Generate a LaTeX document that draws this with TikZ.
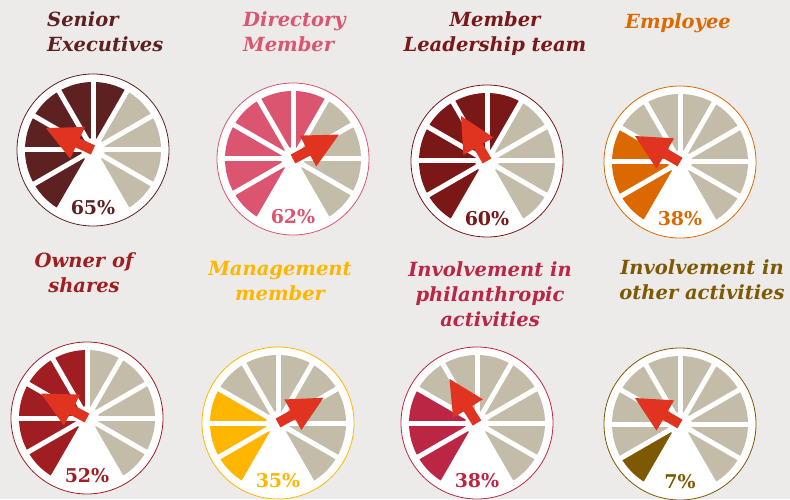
\documentclass[tikz,border=0pt]{standalone}
\usepackage{fontspec}
\setmainfont{DejaVu Serif}
\usepackage{tikz}
\definecolor{bg}{HTML}{ECEBE9}
\definecolor{segrey}{HTML}{C3BCA8}
\definecolor{arrowred}{HTML}{E03320}
\definecolor{senior}{HTML}{5E2121}
\definecolor{director}{HTML}{DB5470}
\definecolor{leader}{HTML}{7A1818}
\definecolor{employee}{HTML}{DC6900}
\definecolor{owner}{HTML}{A01E22}
\definecolor{manager}{HTML}{FFB600}
\definecolor{charity}{HTML}{BC2645}
\definecolor{other}{HTML}{7D5902}

\begin{document}
\begin{tikzpicture}[x=1pt,y=1pt]
	\tikzstyle{title}=[inner sep=0pt, font=\fontsize{19.5}{25}\selectfont\bfseries\itshape]
	\tikzstyle{pct}=[inner sep=0pt, anchor=base, font=\fontsize{19}{22}\selectfont\bfseries]
	\tikzstyle{pointer}=[fill=arrowred]
		\fill[bg] (0,0) rectangle (790,499);
		\useasboundingbox (0,0) rectangle (790,499);
	% titles
		\node[title, text=senior, anchor=north west, align=left] (t1) at (47,488) {Senior\\Executives};
		\node[title, text=director, anchor=north west, align=left] (t2) at (243,488) {Directory\\Member};
		\node[title, text=leader, anchor=north, align=center] (t3) at (495,488) {Member\\Leadership team};
		\node[title, text=employee, anchor=north] (t4) at (678,486) {Employee};
		\node[title, text=owner, anchor=north, align=center] (t5) at (84,247) {Owner of\\shares};
		\node[title, text=manager, anchor=north, align=center] (t6) at (280,238) {Management\\member};
		\node[title, text=charity, anchor=north, align=center] (t7) at (490,238) {Involvement in\\philanthropic\\activities};
		\node[title, text=other, anchor=north, align=center] (t8) at (702,240) {Involvement in\\other activities};
	% gauges
	\foreach \cx/\cy/\col/\n/\ang/\val [count=\i] in {93/349/senior/6/155/65, 293/340/director/6/28/62, 487/338/leader/6/120/60, 680/337/employee/3/150/38, 87/81/owner/5/152/52, 278/76/manager/3/29/35, 477/76/charity/3/122/38, 680/75/other/1/150/7}
	{
		\coordinate (g\i) at (\cx,\cy);
		\draw[\col, fill=white, line width=0.8pt] (g\i) circle (76);
		\foreach \k in {1,...,\n}
			\fill[\col] (g\i) -- ++({270-30*\k}:68) arc[start angle={270-30*\k}, end angle={240-30*\k}, radius=68] -- cycle;
		\pgfmathtruncatemacro\m{\n+1}
		\foreach \k in {\m,...,10}
			\fill[segrey] (g\i) -- ++({270-30*\k}:68) arc[start angle={270-30*\k}, end angle={240-30*\k}, radius=68] -- cycle;
		\foreach \a in {-60,-30,...,240}
			\draw[white, line width=5pt] (g\i) -- ++(\a:70);
		\fill[white] (g\i) circle (12);
		\fill[pointer, shift={(g\i)}, rotate=\ang] (0,-5) -- (17,-5) -- (17,-17.5) -- (52,0) -- (17,17.5) -- (17,5) -- (0,5) -- cycle;
		\node[pct, text=\col] (v\i) at ([yshift=-64pt]g\i) {\val\%};
	}
\end{tikzpicture}
\end{document}
